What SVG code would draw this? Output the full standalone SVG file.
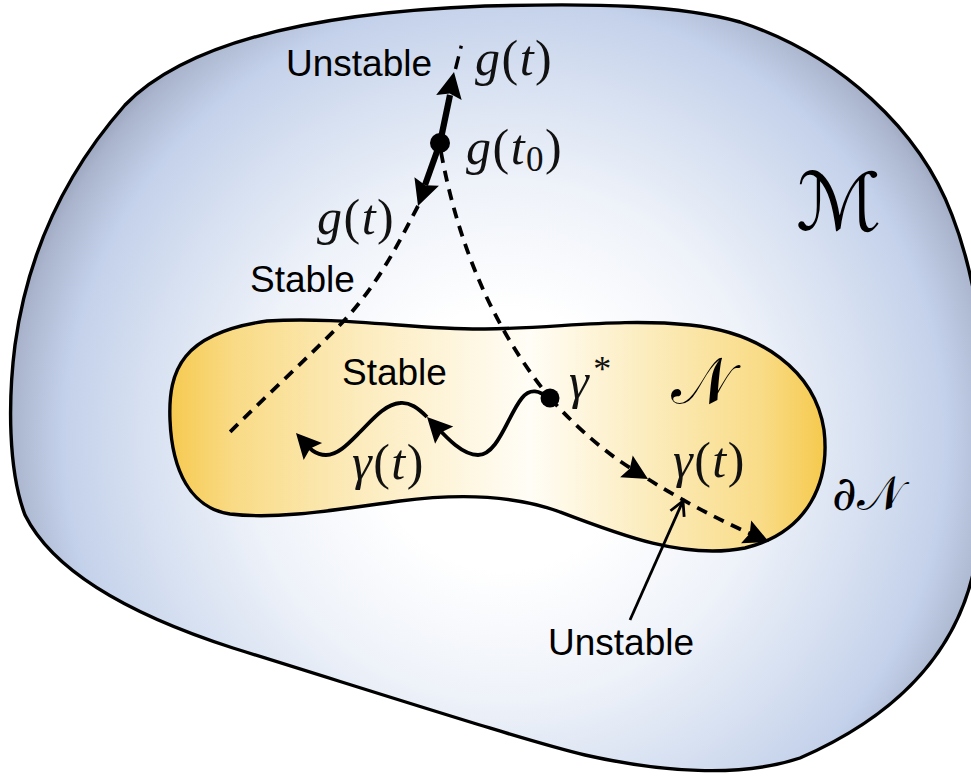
<svg xmlns="http://www.w3.org/2000/svg" xmlns:xlink="http://www.w3.org/1999/xlink" width="971" height="776" viewBox="0 0 971 776">
<defs>
  <radialGradient id="gM" gradientUnits="userSpaceOnUse" cx="505" cy="440" r="520">
    <stop offset="0" stop-color="#ffffff"/>
    <stop offset="0.25" stop-color="#ffffff"/>
    <stop offset="0.5" stop-color="#eef2f9"/>
    <stop offset="0.7" stop-color="#d6e0f1"/>
    <stop offset="0.85" stop-color="#c4d1ea"/>
    <stop offset="0.95" stop-color="#aab5cd"/>
    <stop offset="1" stop-color="#8f9ab2"/>
  </radialGradient>
  <linearGradient id="gN" gradientUnits="userSpaceOnUse" x1="168" y1="0" x2="826" y2="0">
    <stop offset="0" stop-color="#f6c94e"/>
    <stop offset="0.1" stop-color="#f9db86"/>
    <stop offset="0.3" stop-color="#fcecbf"/>
    <stop offset="0.55" stop-color="#fffdf6"/>
    <stop offset="0.72" stop-color="#fcedc0"/>
    <stop offset="0.9" stop-color="#f9dc88"/>
    <stop offset="1" stop-color="#f5c94c"/>
  </linearGradient>
  <path id="tri" d="M0,0 L-25,-12.5 L-21,0 L-25,12.5 Z" fill="#000"/>
  <path id="triT" d="M0,0 L-26,-13 L-22,0 L-26,13 Z" fill="#000"/>
  <path id="vee" d="M-14,-7.5 L0,0 L-14,7.5" fill="none" stroke="#000" stroke-width="2.8" stroke-linejoin="miter"/>
</defs>
<style>
  .blob { stroke:#000; stroke-width:3.4; }
  .dash { fill:none; stroke:#000; stroke-width:3.8; stroke-dasharray:11 8; }
  .wave { fill:none; stroke:#000; stroke-width:3.8; }
  .thick { fill:none; stroke:#000; stroke-width:6.2; }
  .lbl { font-family:"Liberation Sans", Arial, sans-serif; font-size:37px; fill:#000; }
  .math { font-family:"Liberation Serif", "Times New Roman", serif; font-size:50px; letter-spacing:1.5px; fill:#111; }
  .cal { font-family:"DejaVu Serif", "DejaVu Sans", "Noto Sans", serif; fill:#000; }
</style>

<g id="manifold-M">
  <path class="blob" fill="url(#gM)" d="M 485 6 C 600 3, 680 5, 740 22 C 840 55, 920 130, 952 215 C 985 300, 1000 450, 975 565 C 960 640, 910 710, 800 758 C 740 778, 660 772, 585 755 C 530 742, 400 700, 233 648 C 140 618, 55 575, 25 515 C 8 470, 8 400, 15 345 C 28 250, 66 172, 125 105 C 190 38, 330 12, 485 6 Z"/>
  <text class="cal" x="796" y="230" font-size="80">ℳ</text>
</g>

<g id="submanifold-N">
  <path class="blob" fill="url(#gN)" d="M 267 321 C 340 316, 420 330, 485 329 C 560 328, 620 318, 690 325 C 760 332, 815 370, 824 430 C 830 480, 810 532, 745 548 C 685 560, 620 535, 560 512 C 520 497, 470 492, 400 501 C 340 509, 280 520, 230 514 C 190 508, 172 470, 170 420 C 168 370, 182 333, 267 321 Z"/>
  <text class="cal" x="671" y="403" font-size="64">𝒩</text>
  <text class="cal" x="832" y="510" font-size="48"><tspan font-style="italic">∂</tspan>𝒩</text>
</g>

<g id="connectors">
  <!-- from g(t0): unstable direction up, stable direction down -->
  <path class="thick" d="M 440 143 L 450 95"/>
  <use xlink:href="#triT" href="#triT" transform="translate(454 72) rotate(-78.7)"/>
  <path fill="none" stroke="#000" stroke-width="3.4" stroke-dasharray="13 8 3" d="M 455.5 69 L 462 43"/>
  <path class="thick" d="M 440 143 L 425 185"/>
  <use xlink:href="#triT" href="#triT" transform="translate(418 206) rotate(109.5)"/>
  <path class="dash" d="M 418 206 C 395 250, 375 290, 335 330 C 300 365, 262 400, 227 435"/>
  <path class="dash" d="M 441 152 Q 468 298, 550 398"/>
  <!-- from gamma*: unstable direction to boundary -->
  <path class="dash" d="M 550 398 Q 594 447, 640 474"/>
  <use href="#tri" xlink:href="#tri" transform="translate(648 479) rotate(30.3)"/>
  <path class="dash" d="M 648 479 Q 700 512, 760 538"/>
  <use href="#tri" xlink:href="#tri" transform="translate(769 542) rotate(23.8)"/>
  <!-- wavy stable trajectory -->
  <path class="wave" d="M 548 399 C 540 390, 530 388, 522 398 C 508 415, 498 455, 478 455 C 462 455, 446 437, 433 423"/>
  <use href="#tri" xlink:href="#tri" transform="translate(427 417) rotate(-133.4)"/>
  <path class="wave" d="M 427 417 C 418 408, 410 402, 400 403 C 385 404, 372 420, 360 432 C 348 444, 338 455, 326 455 C 315 455, 309 448, 302 440"/>
  <use href="#tri" xlink:href="#tri" transform="translate(296 433) rotate(-132.5)"/>
  <!-- pointer -->
  <path fill="none" stroke="#000" stroke-width="2.8" d="M 630 620 L 682.5 502"/>
  <use href="#vee" xlink:href="#vee" transform="translate(683 501) rotate(-66)"/>
</g>

<g id="point-g-t0">
  <circle cx="440" cy="143" r="10" fill="#000"/>
  <text class="math" x="466" y="164"><tspan font-style="italic">g</tspan>(<tspan font-style="italic">t</tspan><tspan font-size="35" dy="7">0</tspan><tspan dy="-7">)</tspan></text>
</g>

<g id="point-gamma-star">
  <circle cx="550" cy="398" r="9.5" fill="#000"/>
  <text class="math" x="569" y="398"><tspan font-style="italic">γ</tspan><tspan font-size="36" dx="3" dy="-17">*</tspan></text>
</g>

<g id="labels">
  <text class="lbl" x="286" y="76">Unstable</text>
  <text class="math" x="475" y="75"><tspan font-style="italic">g</tspan>(<tspan font-style="italic">t</tspan>)</text>
  <text class="math" x="317" y="234"><tspan font-style="italic">g</tspan>(<tspan font-style="italic">t</tspan>)</text>
  <text class="lbl" x="250" y="292">Stable</text>
  <text class="lbl" x="342" y="385">Stable</text>
  <text class="math" x="352" y="479"><tspan font-style="italic">γ</tspan>(<tspan font-style="italic">t</tspan>)</text>
  <text class="math" x="673" y="477"><tspan font-style="italic">γ</tspan>(<tspan font-style="italic">t</tspan>)</text>
  <text class="lbl" x="548" y="655">Unstable</text>
</g>
</svg>
